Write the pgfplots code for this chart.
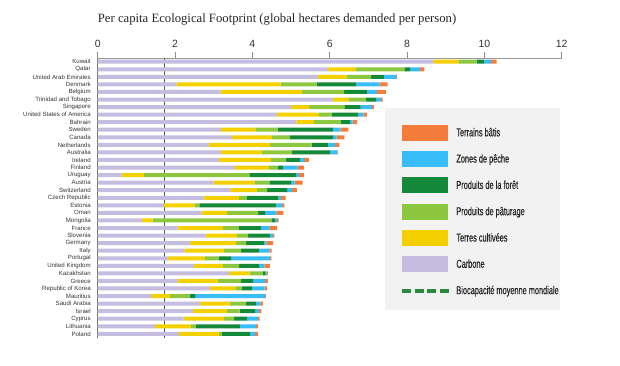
\documentclass[border=0pt]{standalone}
\usepackage{fontspec}
\setmainfont{Liberation Sans}
\newfontfamily\titlefont{Liberation Serif}
\newfontfamily\legfont[FakeStretch=0.64,FakeBold=0.4]{Liberation Sans}
\usepackage{pgfplots}
\usepackage{pgfplotstable}
\pgfplotsset{compat=1.18}
\definecolor{cCarb}{HTML}{C5BDE0}
\definecolor{cCrop}{HTML}{F5D000}
\definecolor{cGraz}{HTML}{8DC63F}
\definecolor{cFor}{HTML}{14893A}
\definecolor{cFish}{HTML}{38BDF8}
\definecolor{cBuilt}{HTML}{F47D3B}
\definecolor{cBio}{HTML}{2A8A3C}
\pgfplotsset{
  boxlegend/.style={legend image code/.code={\path[draw=none,fill=none] (-17pt,-8pt) rectangle (46pt,8pt); \draw[##1,draw=none] (0pt,-8pt) rectangle (46pt,8pt);}},
  dashlegend/.style={legend image code/.code={\path[draw=none,fill=none] (-17pt,-8pt) rectangle (46pt,8pt); \fill[cBio] (0pt,-1.1pt) rectangle (8pt,1.1pt) (12.67pt,-1.1pt) rectangle (20.67pt,1.1pt) (25.33pt,-1.1pt) rectangle (33.33pt,1.1pt) (38pt,-1.1pt) rectangle (46pt,1.1pt);}},
}
\pgfplotstableread{
idx carbon crop graz forest fish built
36 8.68 0.65 0.47 0.20 0.17 0.15
35 5.96 0.72 1.25 0.15 0.25 0.12
34 5.70 0.74 0.63 0.33 0.32 0.02
33 2.04 2.69 0.93 1.03 0.60 0.21
32 3.18 2.11 1.08 0.59 0.26 0.23
31 6.09 0.39 0.46 0.26 0.13 0.04
30 5.00 0.47 0.91 0.42 0.30 0.04
29 4.64 1.08 0.33 0.69 0.13 0.09
28 5.14 0.45 0.70 0.23 0.07 0.12
27 3.19 0.89 0.57 1.43 0.20 0.20
26 3.47 1.04 0.46 1.11 0.10 0.20
25 2.87 1.59 1.07 0.42 0.19 0.11
24 3.19 1.06 0.78 0.98 0.19 0.02
23 3.14 1.34 0.38 0.37 0.11 0.12
22 3.55 0.88 0.22 0.15 0.37 0.16
21 0.62 0.58 2.72 1.21 0.08 0.12
20 3.00 1.05 0.39 0.56 0.09 0.21
19 3.43 0.69 0.26 0.52 0.12 0.13
18 2.74 0.91 0.21 0.81 0.07 0.12
17 1.72 0.78 0.13 1.98 0.16 0.06
16 2.69 0.66 0.80 0.18 0.29 0.18
15 1.15 0.27 3.07 0.10 0.05 0.04
14 2.07 1.17 0.41 0.57 0.22 0.20
13 2.79 0.81 0.29 0.56 0.08 0.04
12 2.39 1.19 0.26 0.47 0.06 0.17
11 2.24 1.02 0.45 0.47 0.26 0.06
10 1.82 0.95 0.36 0.32 1.00 0.04
9 2.49 0.75 0.42 0.52 0.13 0.14
8 3.40 0.53 0.34 0.07 0.03 0.03
7 2.07 1.03 0.61 0.31 0.31 0.07
6 2.90 0.68 0.14 0.27 0.33 0.06
5 1.38 0.49 0.51 0.14 1.81 0.02
4 2.65 0.76 0.43 0.25 0.12 0.06
3 2.47 0.87 0.33 0.40 0.10 0.06
2 2.22 1.05 0.26 0.33 0.28 0.05
1 1.48 0.93 0.13 1.14 0.41 0.06
0 2.10 1.04 0.07 0.73 0.13 0.07
}\fp
\begin{document}
\begin{tikzpicture}
\useasboundingbox (-97.7pt,-27pt) rectangle (522.3pt,338pt);
\begin{axis}[
  at={(0,0)}, anchor=south west,
  scale only axis, width=464pt, height=279.7pt,
  xbar stacked, bar width=4pt,
  xmin=0, xmax=12, ymin=-0.55, ymax=36.45,
  clip=false,
  axis x line*=top, axis y line*=left,
  x axis line style={draw=black!40, line width=0.8pt, -},
  y axis line style={draw=black!55, line width=0.8pt, -},
  xtick={0,2,4,6,8,10,12},
  xticklabels={0,2,4,6,8,10,12},
  tick align=outside, major tick length=6pt,
  xtick style={draw=black!45, line width=0.6pt},
  xticklabel style={font=\fontsize{10.5}{12}\selectfont, text=black!80, yshift=1pt},
  ytick={0,...,36},
  ytick style={draw=none},
  yticklabel style={font=\fontsize{6.1}{7}\selectfont, text=black!80, xshift=2.5pt},
  yticklabels={Poland, Lithuania, Cyprus, Israel, Saudi Arabia, Mauritius, Republic of Korea, Greece, Kazakhstan, United Kingdom, Portugal, Italy, Germany, Slovenia, France, Mongolia, Oman, Estonia, Czech Republic, Switzerland, Austria, Uruguay, Finland, Ireland, Australia, Netherlands, Canada, Sweden, Bahrain, United States of America, Singapore, Trinidad and Tobago, Belgium, Denmark, United Arab Emirates, Qatar, Kuwait},
  reverse legend,
  legend cell align=left,
  boxlegend,
  legend style={at={(axis cs:7.43,27.67)}, anchor=north west, draw=none, fill=none,
    inner xsep=0pt, inner ysep=0pt, row sep=10.3pt,
    font=\legfont\fontsize{11.5}{13}\selectfont, text=black!85,
    nodes={inner sep=0pt},
    /tikz/every odd column/.append style={column sep=8pt}},
]
\fill[black!5] (axis cs:7.43,29.88) rectangle (axis cs:11.955,3.16);
\addlegendimage{dashlegend}
\addlegendentry{Biocapacité moyenne mondiale}
\addplot[fill=cCarb, draw=none] table[x=carbon, y=idx] {\fp};
\addlegendentry{Carbone}
\addplot[fill=cCrop, draw=none] table[x=crop, y=idx] {\fp};
\addlegendentry{Terres cultivées}
\addplot[fill=cGraz, draw=none] table[x=graz, y=idx] {\fp};
\addlegendentry{Produits de pâturage}
\addplot[fill=cFor, draw=none] table[x=forest, y=idx] {\fp};
\addlegendentry{Produits de la forêt}
\addplot[fill=cFish, draw=none] table[x=fish, y=idx] {\fp};
\addlegendentry{Zones de pêche}
\addplot[fill=cBuilt, draw=none] table[x=built, y=idx] {\fp};
\addlegendentry{Terrains bâtis}
\draw[cBio!80!black, line width=0.6pt] (axis cs:1.71,-0.55) -- (axis cs:1.71,36.45);
\node[anchor=base west, inner sep=0pt, font=\titlefont\fontsize{12.7}{15}\selectfont, text=black!85] at (axis cs:0,36.45) [yshift=36.3pt] {Per capita Ecological Footprint (global hectares demanded per person)};
\end{axis}
\end{tikzpicture}
\end{document}
